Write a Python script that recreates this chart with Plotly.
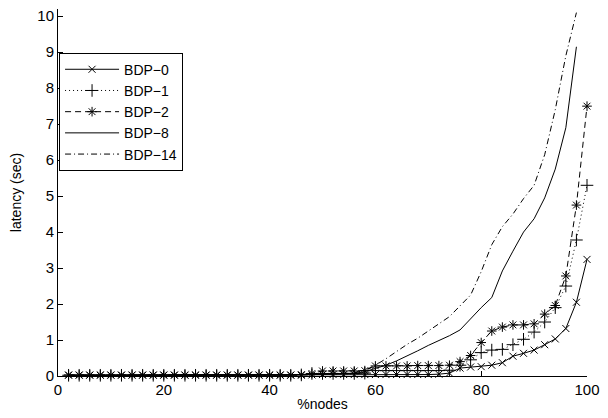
import plotly.graph_objects as go

# x positions (% nodes)
x_full = [2, 4, 6, 8, 10, 12, 14, 16, 18, 20, 22, 24, 26, 28, 30, 32, 34, 36, 38, 40,
          42, 44, 46, 48, 50, 52, 54, 56, 58, 60, 62, 64, 66, 68, 70, 72, 74, 76, 78, 80,
          82, 84, 86, 88, 90, 92, 94, 96, 98, 100]
x_short = [2, 4, 6, 8, 10, 12, 14, 16, 18, 20, 22, 24, 26, 28, 30, 32, 34, 36, 38, 40,
           42, 44, 46, 48, 50, 52, 54, 56, 58, 60, 62, 64, 66, 68, 70, 72, 74, 76, 78, 80,
           82, 84, 86, 88, 90, 92, 94, 96, 98]

bdp0 = [0.02, 0.02, 0.02, 0.02, 0.02, 0.02, 0.02, 0.02, 0.02, 0.02, 0.02, 0.02, 0.02, 0.02,
        0.02, 0.02, 0.02, 0.02, 0.02, 0.02, 0.02, 0.02, 0.02, 0.03, 0.04, 0.04, 0.04, 0.04,
        0.04, 0.04, 0.04, 0.04, 0.04, 0.04, 0.04, 0.05, 0.08, 0.22, 0.25, 0.26, 0.30, 0.37,
        0.55, 0.63, 0.72, 0.87, 1.03, 1.32, 2.05, 3.24]
bdp1 = [0.02, 0.02, 0.02, 0.02, 0.02, 0.02, 0.02, 0.02, 0.02, 0.02, 0.02, 0.02, 0.02, 0.02,
        0.02, 0.02, 0.02, 0.02, 0.02, 0.02, 0.02, 0.02, 0.03, 0.07, 0.07, 0.07, 0.07, 0.07,
        0.08, 0.15, 0.15, 0.15, 0.15, 0.15, 0.15, 0.15, 0.16, 0.30, 0.45, 0.65, 0.72, 0.74,
        0.87, 1.02, 1.22, 1.50, 1.90, 2.50, 3.78, 5.30]
bdp2 = [0.03, 0.03, 0.03, 0.03, 0.03, 0.03, 0.03, 0.03, 0.03, 0.03, 0.03, 0.03, 0.03, 0.03,
        0.03, 0.03, 0.03, 0.03, 0.03, 0.03, 0.03, 0.03, 0.04, 0.07, 0.14, 0.14, 0.14, 0.14,
        0.15, 0.28, 0.28, 0.28, 0.28, 0.29, 0.29, 0.29, 0.30, 0.40, 0.57, 0.93, 1.25, 1.36,
        1.42, 1.42, 1.45, 1.72, 1.96, 2.78, 4.75, 7.50]
bdp8 = [0.02, 0.02, 0.02, 0.02, 0.02, 0.02, 0.02, 0.02, 0.02, 0.02, 0.02, 0.02, 0.02, 0.02,
        0.02, 0.02, 0.02, 0.02, 0.02, 0.02, 0.02, 0.02, 0.03, 0.03, 0.04, 0.05, 0.06, 0.07,
        0.12, 0.20, 0.30, 0.42, 0.55, 0.70, 0.85, 0.98, 1.12, 1.28, 1.60, 1.90, 2.18, 2.92,
        3.47, 4.00, 4.37, 4.95, 5.75, 6.90, 9.15]
bdp14 = [0.02, 0.02, 0.02, 0.02, 0.02, 0.02, 0.02, 0.02, 0.02, 0.02, 0.02, 0.02, 0.02, 0.02,
         0.02, 0.02, 0.02, 0.02, 0.02, 0.02, 0.02, 0.02, 0.03, 0.04, 0.05, 0.06, 0.07, 0.09,
         0.16, 0.30, 0.48, 0.68, 0.88, 1.05, 1.25, 1.47, 1.65, 1.95, 2.25, 2.90, 3.65, 4.15,
         4.50, 4.93, 5.30, 6.15, 7.40, 8.90, 10.10]

series_names = ["BDP−0", "BDP−1", "BDP−2", "BDP−8", "BDP−14"]
y_ticks = [0, 1, 2, 3, 4, 5, 6, 7, 8, 9, 10]
x_ticks = [0, 20, 40, 60, 80, 100]

FONT = "Liberation Sans, Arial, Helvetica, sans-serif"

fig = go.Figure()
fig.add_trace(go.Scatter(x=x_full, y=bdp0, name=series_names[0], mode="lines+markers",
                         cliponaxis=False,
                         line=dict(color="black", width=1),
                         marker=dict(symbol="x-thin-open", size=7, color="black",
                                     line=dict(color="black", width=1))))
fig.add_trace(go.Scatter(x=x_full, y=bdp1, name=series_names[1], mode="lines+markers",
                         cliponaxis=False,
                         line=dict(color="black", width=1, dash="1px,3px"),
                         marker=dict(symbol="cross-thin-open", size=9, color="black",
                                     line=dict(color="black", width=1))))
fig.add_trace(go.Scatter(x=x_full, y=bdp2, name=series_names[2], mode="lines+markers",
                         cliponaxis=False,
                         line=dict(color="black", width=1, dash="6px,4px"),
                         marker=dict(symbol="asterisk-open", size=8, color="black",
                                     line=dict(color="black", width=1))))
fig.add_trace(go.Scatter(x=x_short, y=bdp8, name=series_names[3], mode="lines",
                         line=dict(color="black", width=1)))
fig.add_trace(go.Scatter(x=x_short, y=bdp14, name=series_names[4], mode="lines",
                         line=dict(color="black", width=1, dash="6px,3px,1px,3px")))

fig.update_layout(
    width=608, height=418,
    margin=dict(l=58, r=21, t=7, b=42, pad=0),
    paper_bgcolor="white", plot_bgcolor="white",
    font=dict(family=FONT, size=14, color="black"),
    showlegend=True,
    legend=dict(x=0.002, y=0.881, xanchor="left", yanchor="top",
                bgcolor="white", bordercolor="black", borderwidth=1,
                font=dict(family=FONT, size=14, color="black"),
                itemwidth=54, tracegroupgap=0),
    xaxis=dict(range=[0, 100], tickvals=x_ticks, ticks="inside", ticklen=5,
               tickcolor="black", showline=True, linecolor="black", linewidth=1,
               showgrid=False, zeroline=False, mirror=False,
               tickfont=dict(family=FONT, size=15),
               title=dict(text="%nodes", font=dict(family=FONT, size=14), standoff=2)),
    yaxis=dict(range=[0, 10.2], tickvals=y_ticks, ticks="inside", ticklen=5,
               tickcolor="black", showline=True, linecolor="black", linewidth=1,
               showgrid=False, zeroline=False, mirror=False,
               tickfont=dict(family=FONT, size=15),
               title=dict(text="latency (sec)", font=dict(family=FONT, size=14), standoff=12)),
)

fig.write_html("out.html")
